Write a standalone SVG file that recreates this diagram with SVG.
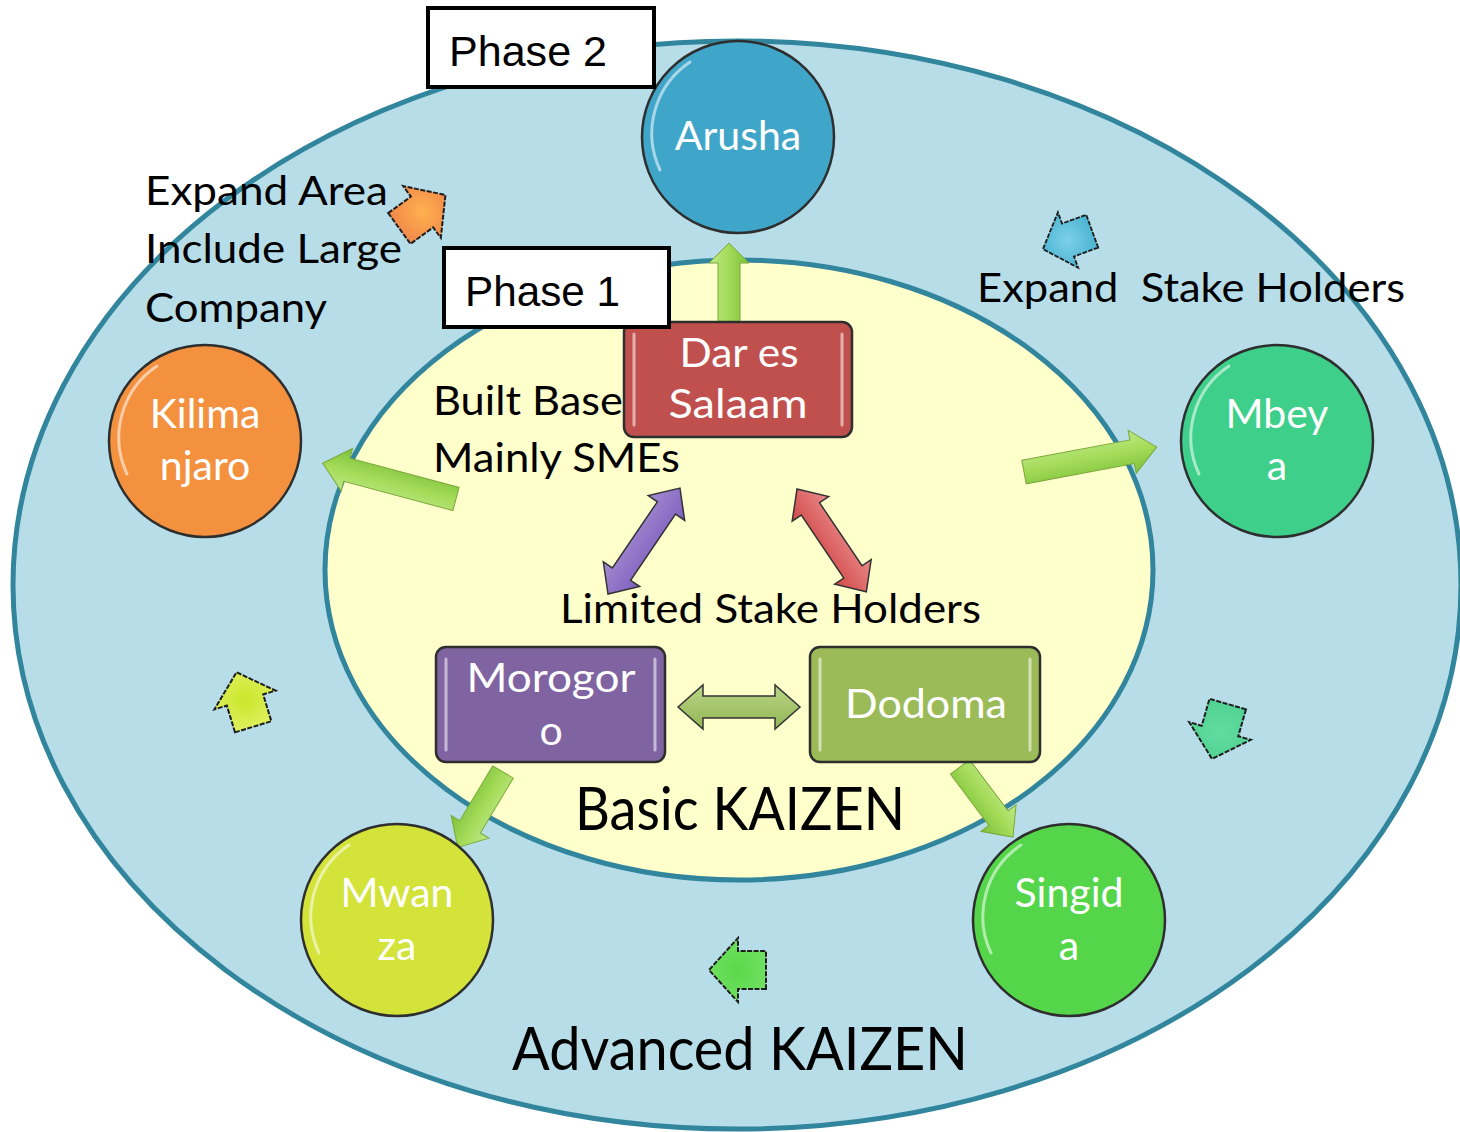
<svg xmlns="http://www.w3.org/2000/svg" width="1460" height="1132" viewBox="0 0 1460 1132">
<style>
.lbl{font-family:Lato,"Open Sans","DejaVu Sans",sans-serif;font-size:40px;fill:#000}
.big{font-family:Lato,"Open Sans","DejaVu Sans",sans-serif;font-size:60px;fill:#000}
.wt{font-family:Lato,"Open Sans","DejaVu Sans",sans-serif;font-size:41px;fill:#fff;text-anchor:middle}
.ph{font-family:"Liberation Sans",Arial,sans-serif;font-size:42px;fill:#000}
.circ{stroke:#2e2e2e;stroke-width:2.5}
.box{stroke:#2e2e2e;stroke-width:2.5}
.hl{stroke:#fff;stroke-opacity:0.55;stroke-width:3;fill:none;stroke-linecap:round}
.garr{fill:url(#gGreen);stroke:#7aa83a;stroke-width:1}
.sm{stroke:#1e1e1e;stroke-width:2;stroke-dasharray:5 1.5}
</style>
<defs>
<linearGradient id="gGreen" x1="0" y1="0" x2="0" y2="1">
<stop offset="0" stop-color="#bde88a"/>
<stop offset="0.45" stop-color="#a6dc5a"/>
<stop offset="1" stop-color="#7cc23a"/>
</linearGradient>
<linearGradient id="gPurple" x1="0" y1="0" x2="0" y2="1">
<stop offset="0" stop-color="#a58bd0"/>
<stop offset="1" stop-color="#7e5fbf"/>
</linearGradient>
<linearGradient id="gRed" x1="0" y1="0" x2="0" y2="1">
<stop offset="0" stop-color="#e98a8a"/>
<stop offset="1" stop-color="#d24848"/>
</linearGradient>
<linearGradient id="gOlive" x1="0" y1="0" x2="0" y2="1">
<stop offset="0" stop-color="#b9d486"/>
<stop offset="1" stop-color="#93b656"/>
</linearGradient>
<radialGradient id="sOrange"><stop offset="0" stop-color="#ffb14f"/><stop offset="1" stop-color="#f28b4a"/></radialGradient>
<radialGradient id="sBlue"><stop offset="0" stop-color="#7cd0e8"/><stop offset="1" stop-color="#4fb6d4"/></radialGradient>
<radialGradient id="sYellow"><stop offset="0" stop-color="#c8e62a"/><stop offset="1" stop-color="#def05a"/></radialGradient>
<radialGradient id="sTeal"><stop offset="0" stop-color="#62dca0"/><stop offset="1" stop-color="#52d394"/></radialGradient>
<radialGradient id="sGreen"><stop offset="0" stop-color="#5ad84a"/><stop offset="1" stop-color="#6fe060"/></radialGradient>
<path id="small" d="M-28,-19 L0,-19 L0,-32 L29,0 L0,32 L0,19 L-28,19 Z"/>
</defs>

<g id="background">
<ellipse cx="737" cy="585" rx="724" ry="544" fill="#b7dde8" stroke="#31859c" stroke-width="5"/>
<ellipse cx="739" cy="570" rx="414" ry="310" fill="#ffffcc" stroke="#31859c" stroke-width="5"/>
</g>

<g id="connectors">
<path class="garr" transform="translate(729,322) rotate(-90)" d="M0,-11 L59,-11 L59,-20 L79,0 L59,20 L59,11 L0,11 Z"/>
<path class="garr" transform="translate(456,499) rotate(195)" d="M0,-12 L113,-12 L113,-22 L138,0 L113,22 L113,12 L0,12 Z"/>
<path class="garr" transform="translate(1024,472) rotate(-10.6)" d="M0,-12 L110,-12 L110,-22 L135,0 L110,22 L110,12 L0,12 Z"/>
<path class="garr" transform="translate(503,772) rotate(121)" d="M0,-12 L64,-12 L64,-22 L88,0 L64,22 L64,12 L0,12 Z"/>
<path class="garr" transform="translate(960,767) rotate(53)" d="M0,-12 L64,-12 L64,-22 L88,0 L64,22 L64,12 L0,12 Z"/>
<path fill="url(#gPurple)" stroke="#333" stroke-width="1.5" transform="translate(608,594) rotate(-55.8)" d="M0,0 L24,-22 L24,-11 L104,-11 L104,-22 L128,0 L104,22 L104,11 L24,11 L24,22 Z"/>
<path fill="url(#gRed)" stroke="#333" stroke-width="1.5" transform="translate(797,489) rotate(56)" d="M0,0 L24,-22 L24,-11 L100,-11 L100,-22 L124,0 L100,22 L100,11 L24,11 L24,22 Z"/>
<path fill="url(#gOlive)" stroke="#333" stroke-width="1.5" transform="translate(678,707)" d="M0,0 L25,-22 L25,-11 L97,-11 L97,-22 L122,0 L97,22 L97,11 L25,11 L25,22 Z"/>
<use href="#small" class="sm" fill="url(#sOrange)" transform="translate(422,212) rotate(-36)"/>
<use href="#small" class="sm" fill="url(#sBlue)" transform="translate(1068,240) rotate(160) scale(0.92)"/>
<use href="#small" class="sm" fill="url(#sYellow)" transform="translate(245,700) rotate(-107)"/>
<use href="#small" class="sm" fill="url(#sTeal)" transform="translate(1220,731) rotate(106)"/>
<use href="#small" class="sm" fill="url(#sGreen)" transform="translate(738,970) rotate(180)"/>
</g>

<g id="node-arusha">
<circle class="circ" cx="738" cy="137" r="96" fill="#3fa6c9"/>
<path class="hl" d="M660,170 A86,86 0 0 1 690,62"/>
<text class="wt" x="738" y="150">Arusha</text>
</g>
<g id="node-kilimanjaro">
<circle class="circ" cx="205" cy="441" r="96" fill="#f4913f"/>
<path class="hl" d="M127,474 A86,86 0 0 1 157,366"/>
<text class="wt" x="205" y="428">Kilima</text>
<text class="wt" x="205" y="480">njaro</text>
</g>
<g id="node-mbeya">
<circle class="circ" cx="1277" cy="441" r="96" fill="#3ecf8b"/>
<path class="hl" d="M1199,474 A86,86 0 0 1 1229,366"/>
<text class="wt" x="1277" y="428">Mbey</text>
<text class="wt" x="1277" y="480">a</text>
</g>
<g id="node-mwanza">
<circle class="circ" cx="397" cy="920" r="96" fill="#d3e33a"/>
<path class="hl" d="M319,953 A86,86 0 0 1 349,845"/>
<text class="wt" x="397" y="907">Mwan</text>
<text class="wt" x="397" y="960">za</text>
</g>
<g id="node-singida">
<circle class="circ" cx="1069" cy="920" r="96" fill="#55d64a"/>
<path class="hl" d="M991,953 A86,86 0 0 1 1021,845"/>
<text class="wt" x="1069" y="907">Singid</text>
<text class="wt" x="1069" y="960">a</text>
</g>

<g id="node-dar">
<rect class="box" x="624" y="322" width="228" height="115" rx="10" fill="#c0504d"/>
<path class="hl" d="M634,334 V425 M842,334 V425"/>
<text class="wt" x="739" y="367" textLength="119" lengthAdjust="spacingAndGlyphs">Dar es</text>
<text class="wt" x="738" y="418" textLength="139" lengthAdjust="spacingAndGlyphs">Salaam</text>
</g>
<g id="node-morogoro">
<rect class="box" x="436" y="647" width="229" height="115" rx="10" fill="#8064a2"/>
<path class="hl" d="M446,659 V750 M655,659 V750"/>
<text class="wt" x="551" y="692" textLength="169" lengthAdjust="spacingAndGlyphs">Morogor</text>
<text class="wt" x="551" y="745">o</text>
</g>
<g id="node-dodoma">
<rect class="box" x="810" y="647" width="230" height="115" rx="10" fill="#9bbb59"/>
<path class="hl" d="M820,659 V750 M1030,659 V750"/>
<text class="wt" x="926" y="718" textLength="162" lengthAdjust="spacingAndGlyphs">Dodoma</text>
</g>

<g id="phase2">
<rect x="428" y="8" width="226" height="79" fill="#fff" stroke="#000" stroke-width="4"/>
<text class="ph" x="449" y="66" textLength="158" lengthAdjust="spacingAndGlyphs">Phase 2</text>
</g>
<g id="phase1">
<rect x="444" y="248" width="225" height="79" fill="#fff" stroke="#000" stroke-width="4"/>
<text class="ph" x="465" y="306" textLength="155" lengthAdjust="spacingAndGlyphs">Phase 1</text>
</g>

<g id="labels">
<text class="lbl" x="145" y="205" textLength="243" lengthAdjust="spacingAndGlyphs">Expand Area</text>
<text class="lbl" x="145" y="263" textLength="257" lengthAdjust="spacingAndGlyphs">Include Large</text>
<text class="lbl" x="145" y="322" textLength="182" lengthAdjust="spacingAndGlyphs">Company</text>
<text class="lbl" x="977" y="302" textLength="428" lengthAdjust="spacingAndGlyphs" xml:space="preserve">Expand  Stake Holders</text>
<text class="lbl" x="433" y="415" textLength="190" lengthAdjust="spacingAndGlyphs">Built Base</text>
<text class="lbl" x="433" y="472" textLength="247" lengthAdjust="spacingAndGlyphs">Mainly SMEs</text>
<text class="lbl" x="560" y="623" textLength="421" lengthAdjust="spacingAndGlyphs">Limited Stake Holders</text>
<text class="big" x="575" y="830" textLength="330" lengthAdjust="spacingAndGlyphs">Basic KAIZEN</text>
<text class="big" x="512" y="1070" textLength="456" lengthAdjust="spacingAndGlyphs">Advanced KAIZEN</text>
</g>
</svg>
